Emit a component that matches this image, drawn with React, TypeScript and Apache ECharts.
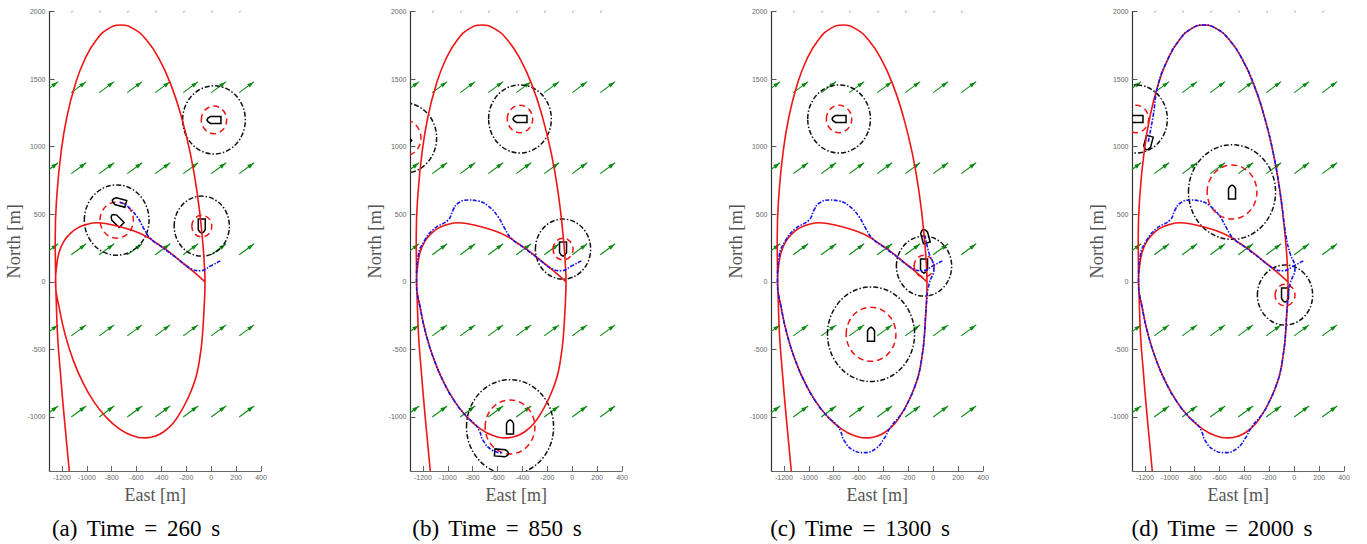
import React, { useEffect, useRef } from "react";
import * as echarts from "echarts";

const xTicks = [-1200, -1000, -800, -600, -400, -200, 0, 200, 400];
const yTicks = [-1000, -500, 0, 500, 1000, 1500, 2000];
const captions = ["(a) Time = 260 s", "(b) Time = 850 s", "(c) Time = 1300 s", "(d) Time = 2000 s"];
const captionCenters = [136, 497, 860, 1222];
const panelLefts = [49.5, 410.5, 771.5, 1132.5];

const lowerLobeLeft = [
  [-1252, 0], [-1220, -201], [-1173, -395], [-1110, -578], [-1033, -743], [-945, -885], [-847, -1000],
];
const lowerLobeRight = [
  [-250, -970], [-195, -876], [-150, -780], [-114, -675], [-90, -550], [-74, -432], [-60, -240], [-52, -90],
];
const northLoop = [
  [-55, 120], [-72, 330], [-112, 650], [-168, 950], [-240, 1221], [-323, 1455], [-417, 1645], [-517, 1785], [-622, 1871], [-727, 1900],
  [-830, 1871], [-927, 1785], [-1017, 1645], [-1095, 1455], [-1160, 1221], [-1208, 950], [-1240, 650], [-1254, 330],
];
const redInnerArc = [
  [-50, 0], [-157, 87], [-257, 160], [-357, 235], [-438, 285], [-518, 333], [-620, 375], [-732, 407], [-830, 428], [-919, 437], [-1000, 425],
  [-1080, 395], [-1140, 350], [-1187, 296], [-1222, 220], [-1242, 120],
];
const redBottom = [[-743, -1085], [-637, -1138], [-531, -1155], [-450, -1142], [-380, -1108], [-310, -1050]];
const redExit = [[-1250, 0], [-1246, -135], [-1235, -400], [-1214, -654], [-1182, -1000], [-1141, -1400]];
const redPath = [...redInnerArc, ...lowerLobeLeft, ...redBottom, ...lowerLobeRight, [-50, 0], ...northLoop, ...redExit];

const blueToA = [
  [73, 155], [-7, 116], [-87, 82], [-168, 99], [-275, 173], [-382, 247], [-489, 321], [-543, 395], [-596, 481], [-676, 561],
];
const blueToB = [
  [-757, 598], [-837, 605], [-918, 581], [-958, 531], [-998, 457], [-1105, 395], [-1185, 309], [-1239, 185], ...lowerLobeLeft,
  [-785, -1050], [-745, -1105], [-717, -1173], [-650, -1242],
];
const blueToC = [
  [-556, -1264], [-462, -1234], [-395, -1160], [-342, -1074], ...lowerLobeRight.slice(0, 6), [-56, -180],
  [-34, -17], [6, 100], [-34, 212],
];
const blueToD = [
  [-66, 338], [-112, 650], [-168, 950], [-240, 1221], [-323, 1455], [-417, 1645], [-517, 1785], [-622, 1871], [-727, 1900],
  [-830, 1871], [-927, 1785], [-1017, 1645], [-1095, 1455], [-1135, 1222],
];
const blueLegs = [blueToA, blueToB, blueToC, blueToD];

// x, y, heading in degrees from north
const ownShips = [
  [-741, 590, 285],
  [-567, -1267, 95],
  [-66, 338, 345],
  [-1175, 1027, 195],
];
// x, y, outer radius, inner radius, heading
const targetsA = [[-760, 457, 260, 134, 315], [-76, 412, 222, 80, 180], [22, 1198, 252, 102, 270]];
const targetsB = [[-1350, 1064, 260, 134, 315], [-74, 242, 222, 80, 180], [-420, 1205, 252, 102, 270], [-500, -1074, 350, 200, 0]];
const targetsC = [[-74, 116, 222, 80, 180], [-757, 1205, 252, 102, 270], [-500, -388, 350, 200, 0]];
const targetsD = [[-74, -98, 222, 80, 180], [-1272, 1205, 252, 102, 270], [-500, 664, 350, 200, 0]];
const targets = [targetsA, targetsB, targetsC, targetsD];

const arrowXs = [-1350, -1125, -900, -675, -450, -225, 0, 225];
const arrowYs = [1995, 1400, 800, 200, -400, -1000];
const arrowU = 120;
const arrowV = 81;
const arrowTails = arrowYs.flatMap((y) => arrowXs.map((x) => [x, y]));

const hull = [[-3.5, -7], [3.5, -7], [3.5, 3.5], [1.8, 6], [0, 7], [-1.8, 6], [-3.5, 3.5]];

const serif = "'Liberation Serif', serif";
const sans = "'Liberation Sans', sans-serif";

function arrowItem(params: any, api: any) {
  const t = api.coord([api.value(0), api.value(1)]);
  const h = api.coord([api.value(0) + arrowU, api.value(1) + arrowV]);
  const dx = h[0] - t[0];
  const dy = h[1] - t[1];
  const len = Math.hypot(dx, dy);
  const ux = dx / len;
  const uy = dy / len;
  const bx = h[0] - ux * 7;
  const by = h[1] - uy * 7;
  return {
    type: "group",
    children: [
      { type: "line", shape: { x1: t[0], y1: t[1], x2: h[0], y2: h[1] }, style: { stroke: "#0a8a12", lineWidth: 1.1 } },
      {
        type: "polygon",
        shape: { points: [[h[0] - ux * 1, h[1] - uy * 1], [bx - uy * 2.2, by + ux * 2.2], [bx + uy * 2.2, by - ux * 2.2]] },
        style: { fill: "#0a8a12" },
      },
    ],
  };
}

function ringItem(params: any, api: any) {
  const c = api.coord([api.value(0), api.value(1)]);
  const outer = api.size([api.value(2), api.value(2)]);
  const inner = api.size([api.value(3), api.value(3)]);
  return {
    type: "group",
    children: [
      {
        type: "ellipse",
        shape: { cx: c[0], cy: c[1], rx: outer[0], ry: outer[1] },
        style: { fill: "none", stroke: "#111", lineWidth: 1.5, lineDash: [5, 2, 1.5, 2] },
      },
      {
        type: "ellipse",
        shape: { cx: c[0], cy: c[1], rx: inner[0], ry: inner[1] },
        style: { fill: "none", stroke: "#f01414", lineWidth: 1.5, lineDash: [6, 4] },
      },
    ],
  };
}

function shipItem(params: any, api: any) {
  const c = api.coord([api.value(0), api.value(1)]);
  const a = (api.value(2) * Math.PI) / 180;
  const points = hull.map(([s, f]) => [c[0] + s * Math.cos(a) + f * Math.sin(a), c[1] + s * Math.sin(a) - f * Math.cos(a)]);
  return { type: "polygon", shape: { points }, style: { fill: "none", stroke: "#000", lineWidth: 1.5 } };
}

export default function App() {
  const ref = useRef<HTMLDivElement>(null);
  useEffect(() => {
    document.body.style.margin = "0";
    const chart = echarts.init(ref.current!, undefined, { renderer: "svg" });
    const grid = panelLefts.map((left) => ({ left, top: 11.5, width: 211.5, height: 459.5, containLabel: false }));
    const xAxis = panelLefts.map((_, i) => ({
      type: "value",
      gridIndex: i,
      min: -1300,
      max: 400,
      name: "East [m]",
      nameLocation: "middle",
      nameGap: 12,
      nameTextStyle: { fontFamily: serif, fontSize: 18, color: "#555" },
      splitLine: { show: false },
      axisLine: { show: true, onZero: false, lineStyle: { color: "#666", width: 1.2 } },
      axisTick: { show: true, inside: true, length: 5, customValues: xTicks, lineStyle: { color: "#666", width: 1 } },
      axisLabel: { show: true, customValues: xTicks, margin: 3, fontFamily: sans, fontSize: 7, color: "#666", formatter: (v: number) => String(v) },
    }));
    const yAxis = panelLefts.map((_, i) => ({
      type: "value",
      gridIndex: i,
      min: -1400,
      max: 2000,
      name: "North [m]",
      nameLocation: "middle",
      nameGap: 26,
      nameTextStyle: { fontFamily: serif, fontSize: 18.5, color: "#555" },
      splitLine: { show: false },
      axisLine: { show: true, onZero: false, lineStyle: { color: "#333", width: 1.2 } },
      axisTick: { show: true, inside: true, length: 5, customValues: yTicks, lineStyle: { color: "#555", width: 1 } },
      axisLabel: { show: true, customValues: yTicks, margin: 4, fontFamily: sans, fontSize: 7, color: "#666", formatter: (v: number) => String(v) },
    }));
    const series: any[] = [];
    panelLefts.forEach((_, i) => {
      const axes = { xAxisIndex: i, yAxisIndex: i, coordinateSystem: "cartesian2d" };
      const own = ownShips[i];
      const blue = blueLegs.slice(0, i + 1).flat().concat([[own[0], own[1]]]);
      series.push({ type: "custom", ...axes, clip: true, silent: true, data: arrowTails, encode: { x: 0, y: 1 }, renderItem: arrowItem });
      series.push({
        type: "line", ...axes, clip: true, data: redPath, smooth: 0.5, showSymbol: false, symbol: "none", silent: true,
        lineStyle: { color: "#f01414", width: 1.6 },
      });
      series.push({
        type: "line", ...axes, clip: true, data: blue, smooth: 0.5, showSymbol: false, symbol: "none", silent: true,
        lineStyle: { color: "#1414f0", width: 1.6, type: [4, 1.5, 1.5, 1.5] },
      });
      series.push({ type: "custom", ...axes, clip: true, silent: true, data: targets[i], encode: { x: 0, y: 1 }, renderItem: ringItem });
      series.push({
        type: "custom", ...axes, clip: true, silent: true,
        data: targets[i].map((t) => [t[0], t[1], t[4]]).concat([own]),
        encode: { x: 0, y: 1 }, renderItem: shipItem,
      });
    });
    chart.setOption({
      animation: false,
      backgroundColor: "#fff",
      grid,
      xAxis,
      yAxis,
      series,
      graphic: captions.map((text, i) => ({
        type: "text",
        x: captionCenters[i],
        y: 528,
        style: { text, fontFamily: serif, fontSize: 23, fill: "#000", align: "center", verticalAlign: "middle", textAlign: "center", textVerticalAlign: "middle" },
      })),
    });
    return () => chart.dispose();
  }, []);
  return (
    <>
      <style>{`text[style*="23px"]{word-spacing:4px}`}</style>
      <div ref={ref} style={{ position: "absolute", left: 0, top: 0, width: 1367, height: 544 }} />
    </>
  );
}
